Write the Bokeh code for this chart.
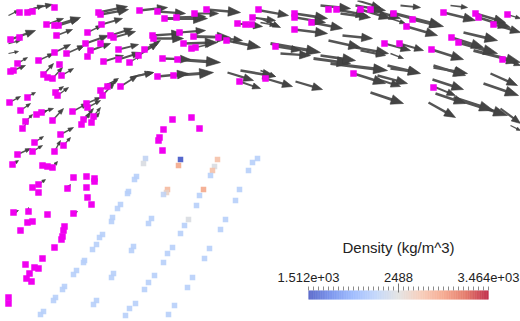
import numpy as np
from bokeh.plotting import figure
from bokeh.models import Range1d
from bokeh.core.properties import value
from bokeh.embed import file_html
from bokeh.resources import INLINE

# ---------------- data (screen-pixel coordinates) -------------
# magenta particle markers
MAG_X = [19, 27, 32, 54, 46, 54, 58, 56, 10, 19, 87, 101, 98, 100, 139, 157, 164, 176, 194, 206,
         237, 245, 251, 252, 258, 85, 90, 87, 100, 110, 113, 118, 118, 103, 138, 144, 129, 152, 153,
         179, 193, 183, 191, 195, 218, 226, 54, 66, 38, 17, 10, 13, 59, 43, 47, 52, 61, 162, 177,
         157, 173, 120, 100, 107, 102, 239, 55, 57, 27, 9, 20, 36, 41, 52, 72, 86, 87, 93, 91, 83,
         81, 25, 22, 60, 63, 54, 34, 32, 17, 172, 191, 199, 163, 159, 158, 162,
         328, 336, 294, 294, 311, 294, 360, 370, 393, 412, 406, 443, 475, 478, 493, 507, 384, 399,
         431, 451, 458, 502, 275, 265, 353, 433,
         12, 42, 47, 52, 73, 86, 94, 94, 38, 32, 38, 67, 86, 87, 91, 13, 28, 27, 32, 47, 73, 20,
         64, 63, 62, 61, 54, 42, 25, 34, 38, 29, 26, 31, 8, 8]
MAG_Y = [12, 12, 11, 7, 24, 25, 25, 35, 39, 37, 32, 24, 12, 14, 10, 11, 18, 17, 13, 9,
         23, 24, 24, 17, 9, 43, 50, 56, 43, 35, 37, 49, 59, 61, 55, 49, 62, 35, 38,
         32, 36, 43, 48, 47, 37, 40, 52, 53, 60, 63, 71, 70, 64, 74, 77, 78, 75, 58, 59,
         76, 75, 86, 90, 86, 95, 81, 92, 95, 97, 102, 110, 114, 112, 120, 111, 103, 107, 116, 122, 119,
         124, 121, 128, 134, 145, 151, 142, 151, 154, 119, 117, 128, 129, 137, 140, 150,
         9, 9, 13, 17, 22, 29, 9, 9, 13, 19, 26, 12, 13, 17, 24, 14, 43, 43,
         49, 37, 42, 59, 46, 78, 73, 87,
         164, 165, 166, 167, 177, 176, 178, 181, 184, 187, 192, 188, 187, 197, 204, 212, 211, 222, 221, 214, 213, 230,
         226, 230, 236, 239, 247, 258, 264, 267, 268, 273, 278, 281, 297, 303]

# velocity glyphs: tail (x0, y0) -> tip (x1, y1)
ARROW_X0 = [8, 27, 33, 46, 54, 58, 56, 10, 8, 8, 87, 101, 98, 100, 110, 113, 85, 90, 66, 54,
            38, 17, 10, 43, 52, 61, 103, 118, 118, 129, 138, 144, 152, 153, 179, 193, 218, 226, 183, 195,
            162, 177, 157, 173, 227, 239, 139, 157, 164, 176, 194, 206, 237, 252, 107, 120, 137, 102, 100, 53,
            57, 9, 20, 27, 25, 22, 40, 36, 52, 72, 86, 87, 83, 81, 93, 91, 60, 34, 32, 17,
            63, 54, 107, 12, 52, 38, 67, 13, 28, 73, 130,
            260, 260, 260, 294, 295, 311, 294, 336, 340, 320, 355, 360, 370, 394, 412, 406, 390, 443, 478, 475,
            507, 493, 400, 450, 463, 451, 458, 473, 399, 384, 431, 390, 390, 433, 503, 270, 280, 275, 313, 330,
            320, 328, 342, 355, 360, 260, 265, 295, 353, 377, 375, 370, 387, 433, 432, 435, 428, 453, 490, 483,
            500, 460, 510, 240, 433, 357]
ARROW_Y0 = [15, 10, 8, 24, 25, 25, 35, 39, 43, 53, 32, 24, 12, 14, 35, 37, 43, 50, 53, 52,
            60, 63, 71, 74, 78, 75, 61, 49, 59, 62, 55, 49, 35, 38, 32, 36, 37, 40, 43, 47,
            58, 59, 76, 75, 72, 81, 10, 11, 18, 17, 13, 9, 23, 17, 84, 86, 75, 95, 90, 93,
            95, 102, 110, 96, 121, 128, 112, 114, 120, 111, 103, 107, 119, 124, 116, 122, 134, 142, 151, 154,
            145, 151, 86, 164, 167, 184, 188, 212, 211, 213, 77,
            10, 18, 22, 13, 17, 22, 29, 9, 13, 5, 5, 9, 9, 13, 19, 26, 18, 12, 17, 13,
            14, 24, 5, 5, 32, 37, 42, 50, 43, 43, 49, 53, 68, 67, 59, 43, 53, 46, 58, 63,
            55, 40, 35, 47, 50, 70, 78, 81, 73, 75, 78, 92, 65, 65, 79, 93, 102, 97, 73, 83,
            108, 100, 125, 70, 86, 0]
ARROW_X1 = [18, 43, 52, 63, 80, 78, 72, 35, 20, 18, 101, 122, 127, 128, 132, 135, 108, 110, 84, 70,
            53, 27, 25, 53, 62, 73, 123, 138, 140, 140, 158, 160, 182, 183, 205, 230, 242, 260, 217, 212,
            190, 220, 188, 213, 253, 260, 167, 185, 207, 205, 218, 240, 262, 275, 118, 137, 153, 114, 112, 63,
            68, 20, 30, 35, 32, 28, 53, 47, 63, 87, 100, 100, 93, 90, 100, 99, 73, 43, 42, 30,
            70, 60, 117, 18, 57, 45, 70, 18, 28, 77, 153,
            288, 280, 275, 327, 325, 342, 327, 367, 370, 350, 385, 390, 400, 443, 440, 437, 405, 475, 510, 505,
            520, 520, 420, 467, 497, 483, 497, 520, 423, 410, 463, 403, 418, 467, 520, 320, 310, 300, 350, 387,
            355, 360, 372, 388, 385, 275, 292, 322, 385, 407, 400, 403, 420, 465, 463, 465, 455, 493, 517, 518,
            520, 507, 520, 275, 455, 380]
ARROW_Y1 = [10, 5, 4, 18, 17, 19, 29, 30, 40, 51, 25, 18, 6, 9, 28, 31, 35, 43, 45, 44,
            53, 57, 65, 63, 67, 68, 55, 44, 52, 55, 42, 40, 33, 38, 30, 37, 40, 47, 42, 43,
            59, 62, 73, 72, 80, 88, 7, 13, 18, 16, 13, 12, 26, 20, 78, 75, 72, 82, 82, 86,
            87, 96, 103, 92, 114, 120, 108, 110, 108, 103, 97, 100, 108, 112, 107, 112, 127, 136, 145, 148,
            137, 140, 80, 160, 161, 179, 184, 210, 207, 211, 72,
            15, 27, 25, 18, 22, 28, 33, 15, 17, 8, 10, 18, 18, 26, 26, 35, 23, 20, 27, 22,
            18, 32, 7, 7, 40, 47, 53, 62, 50, 50, 59, 58, 72, 73, 65, 52, 55, 50, 63, 70,
            60, 47, 38, 53, 55, 76, 86, 89, 83, 83, 86, 103, 73, 75, 89, 103, 117, 110, 85, 95,
            123, 115, 130, 76, 95, 7]

# density particles (kg/m^3)
DENS_X = [145, 180, 178, 217, 214, 212, 210, 257, 252, 248,
          143, 136, 134, 128, 127, 120, 117, 112, 111, 102, 99, 96, 92, 84, 83, 76, 73, 64, 62, 55, 53, 43, 40,
          167, 166, 163, 151, 148, 133, 131, 113, 111, 96, 93,
          199, 196, 188, 184, 180, 172, 167, 163, 154, 148, 144, 135, 129, 125,
          203, 239, 235, 225, 220, 209, 204, 192, 187, 174, 168]
DENS_Y = [158, 159, 165, 159, 166, 170, 175, 158, 162, 170,
          163, 176, 179, 191, 193, 204, 208, 217, 221, 234, 237, 244, 249, 260, 262, 270, 274, 286, 289, 297, 300, 311, 314,
          189, 192, 194, 218, 223, 246, 250, 273, 277, 300, 304,
          195, 205, 219, 225, 233, 247, 253, 262, 275, 282, 289, 303, 308, 315,
          189, 189, 200, 219, 229, 248, 258, 277, 287, 305, 314]
DENS_V = [2300, 1560, 2900, 2750, 2450, 2750, 2250, 2240, 2240, 2240,
          2450, 2240, 2240, 2240, 2240, 2240, 2240, 2240, 2240, 2240, 2240, 2240, 2240, 2240, 2240, 2240, 2240,
          2240, 2240, 2240, 2240, 2240, 2240,
          2800, 2600, 2300, 2240, 2240, 2240, 2240, 2240, 2240, 2240, 2240,
          2240, 2240, 2450, 2240, 2240, 2240, 2240, 2240, 2240, 2240, 2240, 2240, 2240, 2240,
          2900, 2240, 2240, 2240, 2240, 2240, 2240, 2240, 2240, 2240, 2240]

CBAR_TITLE = "Density (kg/m^3)"
CBAR_MIN, CBAR_MID, CBAR_MAX = 1512.0, 2488.0, 3464.0
CBAR_LABELS = ["1.512e+03", "2488", "3.464e+03"]

# ---------------- colour map (cool to warm) ----------------
CTRL = [(59, 76, 192), (98, 130, 234), (141, 176, 254), (184, 208, 249), (221, 221, 221),
        (245, 196, 173), (244, 154, 123), (222, 96, 77), (180, 4, 38)]
palette = []
for i in range(256):
    t = i / 255 * (len(CTRL) - 1)
    k = min(int(t), len(CTRL) - 2)
    f = t - k
    c = tuple(int(round(CTRL[k][j] + (CTRL[k + 1][j] - CTRL[k][j]) * f)) for j in range(3))
    palette.append("#%02x%02x%02x" % c)


def cmap(v):
    f = (np.asarray(v, float) - CBAR_MIN) / (CBAR_MAX - CBAR_MIN)
    idx = np.clip((f * 255).round().astype(int), 0, 255)
    return [palette[i] for i in idx]


W, H = 520, 321
p = figure(width=W, height=H, x_range=Range1d(0, W), y_range=Range1d(H, 0),
           x_axis_type=None, y_axis_type=None, toolbar_location=None,
           output_backend="svg", min_border=0, outline_line_color=None,
           background_fill_color="white", border_fill_color="white")
p.grid.visible = False

# ---------------- density particles ----------------
p.scatter(DENS_X, DENS_Y, marker="square", size=5.5, fill_color=cmap(DENS_V), line_color=None,
          fill_alpha=0.9)

# ---------------- arrows ----------------
x0 = np.array(ARROW_X0, float); y0 = np.array(ARROW_Y0, float)
x1 = np.array(ARROW_X1, float); y1 = np.array(ARROW_Y1, float)
dx = x1 - x0; dy = y1 - y0
L = np.hypot(dx, dy)
ux = dx / L; uy = dy / L
hl = np.clip(0.36 * L, 3.5, 14.0)
hw = np.clip(0.14 * L, 1.6, 5.0)
bx = x1 - ux * hl; by = y1 - uy * hl
nx = -uy; ny = ux
lw = np.clip(0.6 + 0.06 * L, 1.0, 3.2)
p.segment(x0, y0, bx + ux * 1.0, by + uy * 1.0, line_width=lw, line_color="#555555")
hx = [[x1[i], bx[i] + nx[i] * hw[i], bx[i] - nx[i] * hw[i]] for i in range(len(L))]
hy = [[y1[i], by[i] + ny[i] * hw[i], by[i] - ny[i] * hw[i]] for i in range(len(L))]
p.patches(hx, hy, fill_color="#444444", line_color="#3a3a3a", line_width=0.6)

# ---------------- magenta markers ----------------
p.scatter(MAG_X, MAG_Y, marker="square", size=6.5, fill_color="#f000f0", line_color=None)

# ---------------- colour bar ----------------
BX0, BX1, BY0, BY1 = 308.0, 488.0, 290.0, 299.0
vals = np.linspace(CBAR_MIN, CBAR_MAX, 256)
step = (BX1 - BX0) / 256
lefts = BX0 + np.arange(256) * step
p.quad(left=lefts, right=lefts + step * 1.05, bottom=BY1, top=BY0,
       fill_color=cmap(vals), line_color=None)


def vx(v):
    return BX0 + (np.asarray(v, float) - CBAR_MIN) / (CBAR_MAX - CBAR_MIN) * (BX1 - BX0)


tick_vals = np.linspace(CBAR_MIN, CBAR_MAX, 37)
tx = vx(tick_vals)
p.segment(tx, [286.0] * len(tx), tx, [BY0] * len(tx), line_color="#8a8a8a", line_width=1)
p.segment([vx(CBAR_MID)], [283.0], [vx(CBAR_MID)], [292.0], line_color="#777777", line_width=1)

p.text(x=[vx(CBAR_MID)], y=[247], text=[CBAR_TITLE], text_font=value("Liberation Sans"),
       text_font_size="15px", text_align="center", text_baseline="middle", text_color="#222222")
p.text(x=list(vx([CBAR_MIN, CBAR_MID, CBAR_MAX])), y=[277, 277, 277], text=CBAR_LABELS,
       text_font=value("Liberation Sans"), text_font_size="13px", text_align="center",
       text_baseline="middle", text_color="#222222")

open("out.html", "w").write(file_html(p, INLINE))
